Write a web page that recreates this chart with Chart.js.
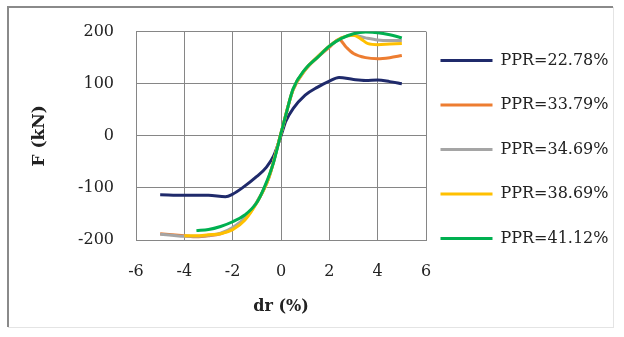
<!DOCTYPE html>
<html>
<head>
<meta charset="utf-8">
<script src="https://cdn.jsdelivr.net/npm/chart.js@4.4.1/dist/chart.umd.min.js"></script>
<style>
  html, body { margin: 0; padding: 0; background: #fff; }
  canvas { display: block; }
</style>
</head>
<body>
<canvas id="grafico" width="624" height="337"></canvas>
<script>
const series = ["PPR=22.78%", "PPR=33.79%", "PPR=34.69%", "PPR=38.69%", "PPR=41.12%"];
const cores = ["#1f2a6b", "#ed7d31", "#a5a5a5", "#ffc000", "#00b050"];

// dr (%) e F (kN)
const dr1 = [-5.0, -4.0, -3.0, -2.3, -2.0, -1.6, -1.0, -0.6, -0.3, 0.0, 0.2, 0.5, 1.0, 1.5, 2.0, 2.4, 3.0, 3.5, 4.0, 4.5, 5.0];
const f1  = [-113, -114, -114, -117, -112, -100, -78, -60, -38, 0, 28, 52, 78, 93, 105, 112, 108, 106, 107, 104, 100];

const dr2 = [-5.0, -4.5, -4.0, -3.5, -3.0, -2.5, -2.0, -1.5, -1.0, -0.5, 0.0, 0.5, 1.0, 1.5, 2.0, 2.4, 2.7, 3.0, 3.5, 4.0, 4.5, 5.0];
const f2  = [-188, -190, -192, -194, -192, -188, -178, -160, -128, -80, 5, 88, 126, 150, 170, 185, 170, 158, 150, 148, 150, 154];

const dr3 = [-5.0, -4.5, -4.0, -3.5, -3.0, -2.5, -2.0, -1.5, -1.0, -0.5, 0.0, 0.5, 1.0, 1.5, 2.0, 2.5, 3.0, 3.5, 4.0, 4.5, 5.0];
const f3  = [-189, -191, -193, -193, -191, -187, -176, -158, -127, -80, 5, 89, 127, 151, 172, 188, 193, 188, 184, 183, 183];

const dr4 = [-4.0, -3.5, -3.0, -2.5, -2.0, -1.5, -1.0, -0.5, 0.0, 0.5, 1.0, 1.5, 2.0, 2.5, 3.0, 3.3, 3.6, 4.0, 4.5, 5.0];
const f4  = [-192, -192, -190, -188, -180, -162, -128, -80, 5, 89, 127, 151, 172, 188, 193, 186, 177, 175, 176, 177];

const dr5 = [-3.5, -3.0, -2.5, -2.0, -1.5, -1.0, -0.7, -0.3, 0.0, 0.2, 0.5, 1.0, 1.5, 2.0, 2.5, 3.0, 3.5, 4.0, 4.5, 5.0];
const f5  = [-182, -180, -174, -165, -152, -128, -100, -50, 5, 40, 90, 128, 150, 172, 187, 196, 199, 198, 194, 188];

const eixoX = [-6, -4, -2, 0, 2, 4, 6];
const eixoY = [-200, -100, 0, 100, 200];

const dadosX = [dr1, dr2, dr3, dr4, dr5];
const dadosY = [f1, f2, f3, f4, f5];

const moldura = {
  id: "moldura",
  beforeDraw(chart) {
    const ctx = chart.ctx;
    ctx.save();
    ctx.fillStyle = "#fff";
    ctx.fillRect(0, 0, chart.width, chart.height);
    ctx.strokeStyle = "#e4e4e4";
    ctx.lineWidth = 1;
    ctx.strokeRect(8.5, 7.5, 605, 320);
    ctx.strokeStyle = "#8a8a8a";
    ctx.lineWidth = 2;
    ctx.beginPath();
    ctx.moveTo(8, 327);
    ctx.lineTo(8, 7);
    ctx.lineTo(613, 7);
    ctx.stroke();
    ctx.restore();
  },
  afterLayout(chart) {
    // legenda colada ao lado do grafico, como no original
    const leg = chart.legend;
    leg.left = 412;
    leg.right = 622;
    leg.width = 210;
    leg.top = 24;
  },
};

const grafico = document.getElementById("grafico");

new Chart(grafico, {
  type: "line",
  data: {
    datasets: series.map((nome, i) => ({
      label: nome,
      data: dadosX[i].map((x, j) => ({ x: x, y: dadosY[i][j] })),
      borderColor: cores[i],
      backgroundColor: cores[i],
      borderWidth: 3,
      pointRadius: 0,
      cubicInterpolationMode: "monotone",
      order: series.length - i,
    })),
  },
  plugins: [moldura],
  options: {
    responsive: false,
    animation: false,
    layout: { padding: { left: 0, top: 29, right: 56, bottom: 10 } },
    plugins: {
      tooltip: { enabled: false },
      legend: {
        position: "right",
        align: "start",
        labels: {
          usePointStyle: true,
          pointStyle: "line",
          pointStyleWidth: 52,
          padding: 28.5,
          color: "#222",
          font: { family: "DejaVu Serif", size: 16 },
          sort: (a, b) => a.datasetIndex - b.datasetIndex,
        },
      },
    },
    scales: {
      x: {
        type: "linear",
        min: -6,
        max: 6,
        afterBuildTicks: (s) => { s.ticks = eixoX.map((v) => ({ value: v })); },
        afterFit: (s) => { s.height = 87; },
        grid: { color: "#868686", drawTicks: false },
        border: { color: "#868686" },
        ticks: { color: "#222", padding: 22, font: { family: "DejaVu Serif", size: 16 } },
        title: {
          display: true,
          text: "dr (%)",
          color: "#222",
          padding: { top: 0, bottom: 11 },
          font: { family: "DejaVu Serif", size: 16, weight: "bold" },
        },
      },
      y: {
        min: -200,
        max: 200,
        afterBuildTicks: (s) => { s.ticks = eixoY.map((v) => ({ value: v })); },
        afterFit: (s) => { s.width = 136; },
        grid: { color: "#868686", drawTicks: false },
        border: { color: "#868686" },
        ticks: { color: "#222", padding: 22, font: { family: "DejaVu Serif", size: 16 } },
        title: {
          display: true,
          text: "F (kN)",
          color: "#222",
          padding: { top: 29, bottom: 0 },
          font: { family: "DejaVu Serif", size: 17, weight: "bold" },
        },
      },
    },
  },
});
</script>
</body>
</html>
